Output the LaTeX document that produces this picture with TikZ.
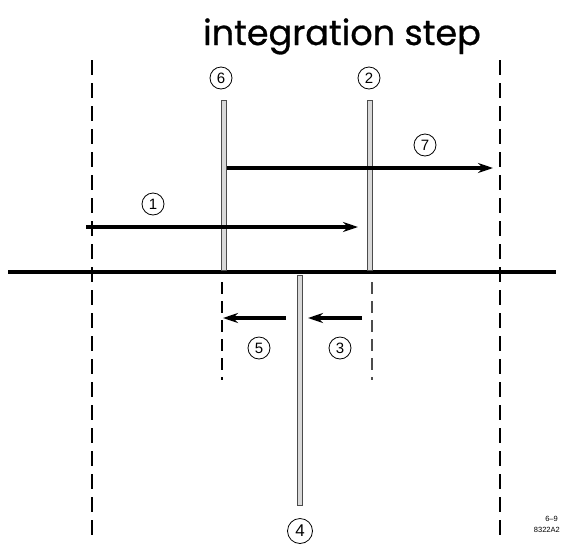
\documentclass[tikz,border=0pt]{standalone}
\usepackage{fontspec}
\setmainfont{Liberation Sans}
\newfontfamily\titlefont{Poppins}[FakeBold=0.8]
\usetikzlibrary{arrows.meta}
\begin{document}
\begin{tikzpicture}[x=1pt,y=-1pt,
  num/.style={circle,draw,line width=0.8pt,inner sep=0pt,minimum size=22pt,font=\fontsize{15}{15}\selectfont},
  bar/.style={rectangle,draw=black!70,line width=0.7pt,fill=gray!30,inner sep=0pt,minimum width=5.5pt},
  bigarrow/.style={line width=3.2pt,-{Stealth[length=15pt,width=10pt,inset=5pt]}},
  longdash/.style={line width=1.2pt,dash pattern=on 15pt off 8pt},
  shortdash/.style={line width=1.1pt,dash pattern=on 12pt off 7pt}]
\useasboundingbox (0,0) rectangle (565,547);
% title
\node[anchor=base,font=\titlefont\fontsize{35}{35}\selectfont,inner sep=0pt] (title) at (342,45) {integration step};
% long dashed lines
\coordinate (lt) at (92,60); \coordinate (lb) at (92,542);
\coordinate (rt) at (500,60); \coordinate (rb) at (500,542);
\draw[longdash] (lt) -- (lb);
\draw[longdash] (rt) -- (rb);
% horizontal line
\coordinate (hl) at (8,272); \coordinate (hr) at (556,272);
\draw[line width=4pt] (hl) -- (hr);
% bars
\node[bar,minimum height=170pt] (b6) at (224,185) {};
\node[bar,minimum height=170pt] (b2) at (370,185) {};
\node[bar,minimum height=230pt] (b4) at (300,390) {};
% labels
\node[num] (n6) at (221,78) {6};
\node[num] (n2) at (369,78) {2};
\node[num] (n7) at (425,145) {7};
\node[num] (n1) at (153,204) {1};
\node[num] (n5) at (259,348) {5};
\node[num] (n3) at (340,348) {3};
\node[num,minimum size=25pt,font=\fontsize{17}{17}\selectfont\rmfamily] (n4) at (300,531) {4};
% arrows
\coordinate (a7e) at (493,168);
\draw[bigarrow] (b6.east |- a7e) -- (a7e);
\coordinate (a1s) at (86,227); \coordinate (a1e) at (358,227);
\draw[bigarrow] (a1s) -- (a1e);
% short dashed
\coordinate (sd1t) at (222,282); \coordinate (sd1b) at (222,380);
\coordinate (sd2t) at (372,282); \coordinate (sd2b) at (372,380);
\draw[shortdash] (sd1t) -- (sd1b);
\draw[shortdash,black!70] (sd2t) -- (sd2b);
\coordinate (a5s) at (286,318); \coordinate (a5e) at (223,318);
\coordinate (a3s) at (362,318); \coordinate (a3e) at (308,318);
\draw[bigarrow] (a5s) -- (a5e);
\draw[bigarrow] (a3s) -- (a3e);
% code
\node[anchor=east,font=\fontsize{7.5}{7.5}\selectfont,inner sep=0pt] (c1) at (558,519) {6--9};
\node[anchor=east,font=\fontsize{7.5}{7.5}\selectfont,inner sep=0pt] (c2) at (560,530) {8322A2};
\end{tikzpicture}
\end{document}
